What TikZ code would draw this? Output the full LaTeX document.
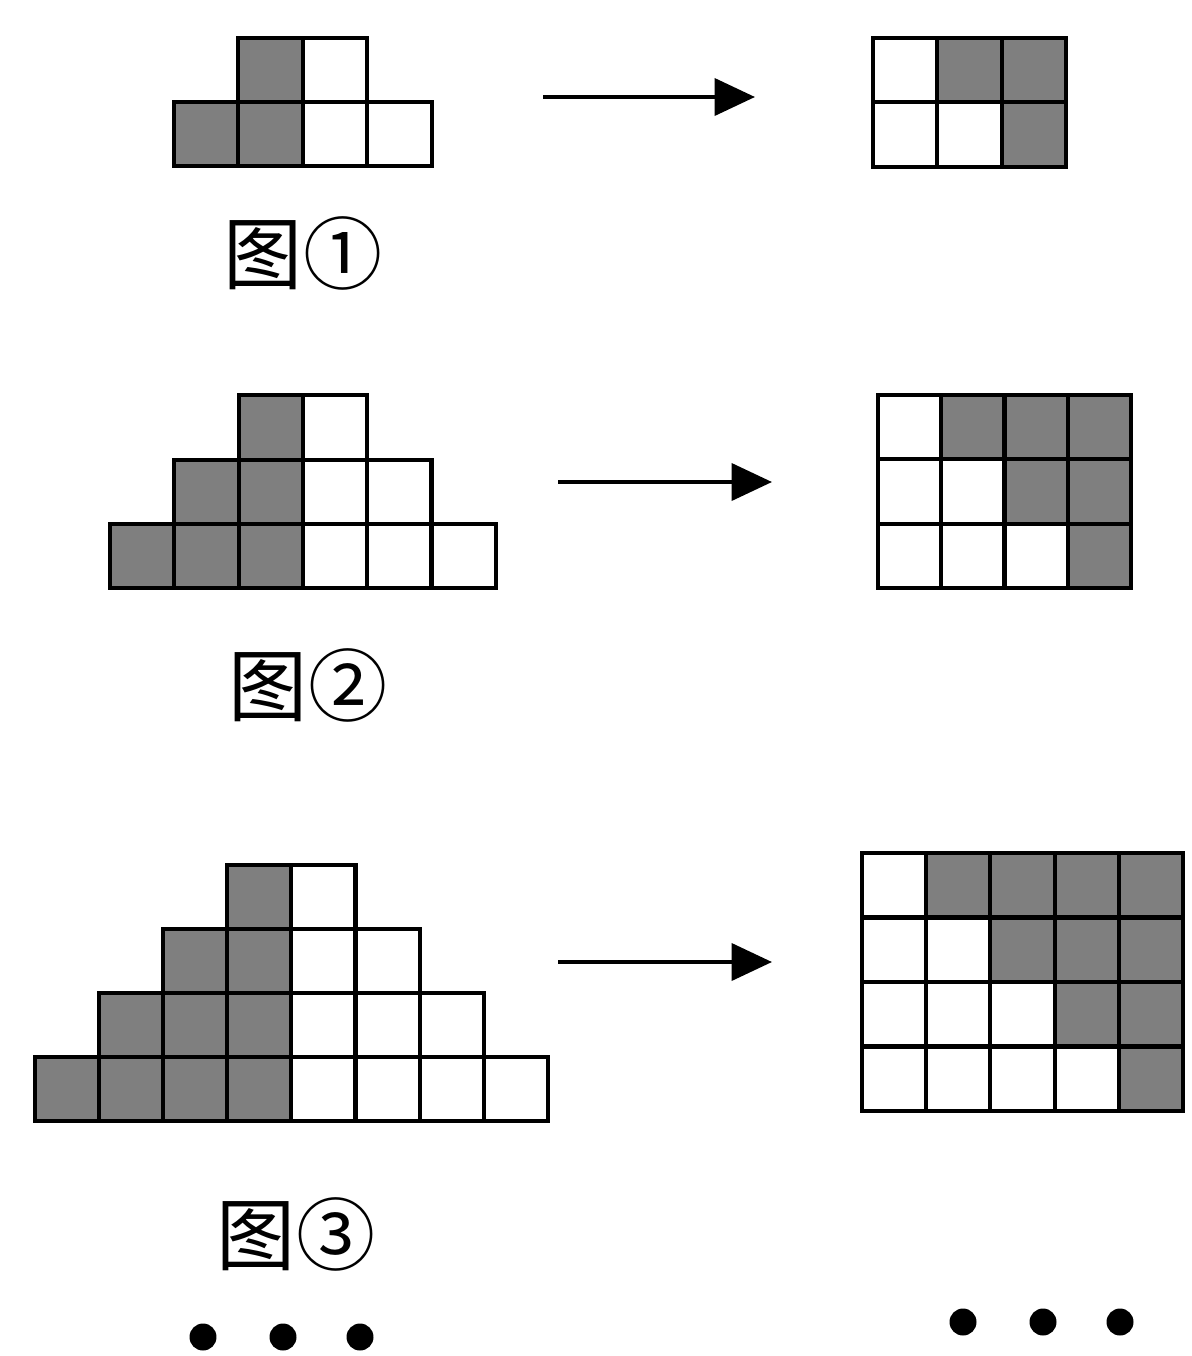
\documentclass[tikz,border=0pt]{standalone}
\usepackage{fontspec}
\newfontfamily\cjk{Noto Sans CJK SC}
\usetikzlibrary{arrows.meta}
\definecolor{cellgray}{HTML}{7F7F7F}
\tikzset{
  cellst/.style={draw=black,line width=2.3pt,line join=miter},
  arr/.style={line width=2.4pt,-{Triangle[length=23pt,width=21pt]}},
  lab/.style={font=\cjk\fontsize{45}{45}\selectfont,inner sep=0pt},
  dotst/.style={fill=black}
}
% pyramid: #1 = n, #2 = x of bottom-left, #3 = top y of bottom row, #4 = cell size
\newcommand\gridpyr[4]{%
  \foreach \r in {0,...,#1}{%
    \pgfmathtruncatemacro\cmax{2*\r+1}%
    \foreach \c in {0,...,\cmax}{%
      \pgfmathsetmacro\xx{#2+(#1-\r+\c)*#4}%
      \pgfmathsetmacro\yy{#3-(#1-\r)*#4}%
      \ifnum\c>\r \def\fc{white}\else\def\fc{cellgray}\fi
      \draw[cellst,fill=\fc] (\xx,\yy) rectangle ++(#4,#4);
    }}}
% rectangle: #1 = n, #2 = x0, #3 = y0, #4 = cell width, #5 = cell height
\newcommand\gridrect[5]{%
  \pgfmathtruncatemacro\cmaxr{#1+1}%
  \foreach \r in {0,...,#1}{%
    \foreach \c in {0,...,\cmaxr}{%
      \pgfmathsetmacro\xx{#2+\c*#4}%
      \pgfmathsetmacro\yy{#3+\r*#5}%
      \ifnum\c>\r \def\fc{cellgray}\else\def\fc{white}\fi
      \draw[cellst,fill=\fc] (\xx,\yy) rectangle ++(#4,#5);
    }}}
\begin{document}
\begin{tikzpicture}[x=0.02cm,y=-0.02cm]
\useasboundingbox (0,0) rectangle (1192,1356);
% figure 1
\gridpyr{1}{174}{102}{64.4}
\gridrect{1}{873}{38}{64.4}{64.4}
\coordinate (a1s) at (543,97);
\coordinate (a1e) at (755,97);
\draw[arr] (a1s) -- (a1e);
\node[lab] (lab1) at (303,253) {图①};
% figure 2
\gridpyr{2}{110}{524}{64.3}
\gridrect{2}{878}{395}{63.25}{64.3}
\coordinate (a2s) at (558,482);
\coordinate (a2e) at (772,482);
\draw[arr] (a2s) -- (a2e);
\node[lab] (lab2) at (308,685) {图②};
% figure 3
\gridpyr{3}{35}{1057}{64.1}
\gridrect{3}{862}{853}{64.2}{64.5}
\coordinate (a3s) at (558,962);
\coordinate (a3e) at (772,962);
\draw[arr] (a3s) -- (a3e);
\node[lab] (lab3) at (296,1234) {图③};
% dots
\foreach \x in {203,283,360}{\fill[dotst] (\x,1337) circle[radius=0.27cm];}
\foreach \x in {963,1043,1120}{\fill[dotst] (\x,1322) circle[radius=0.27cm];}
\end{tikzpicture}
\end{document}
